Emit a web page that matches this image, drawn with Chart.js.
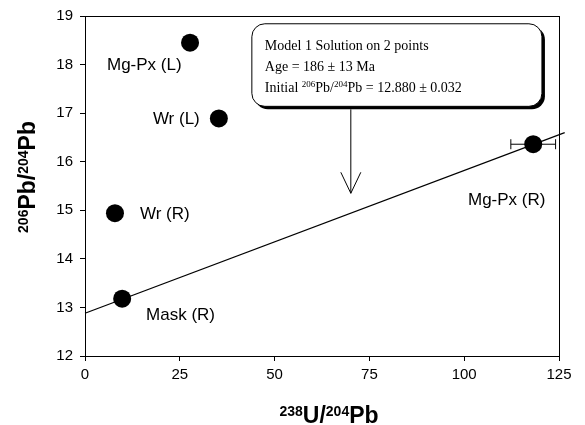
<!DOCTYPE html>
<html>
<head>
<meta charset="utf-8">
<script src="https://cdn.jsdelivr.net/npm/chart.js@4/dist/chart.umd.min.js"></script>
<style>
  html, body { margin: 0; padding: 0; background: #fff; }
  #wrap { width: 585px; height: 425px; }
</style>
</head>
<body>
<div id="wrap"><canvas id="isochron" width="585" height="425"></canvas></div>
<script>
// Sample points (238U/204Pb vs 206Pb/204Pb)
const sampleNames = ['Mg-Px (L)', 'Wr (L)', 'Wr (R)', 'Mask (R)', 'Mg-Px (R)'];
const uPb = [27.7, 35.3, 7.9, 9.8, 118.2];
const pbPb = [18.45, 16.89, 14.94, 13.18, 16.36];
// horizontal error (only Mg-Px (R) has a visible one)
const uPbErr = [0, 0, 0, 0, 5.9];

// Model 1 regression line end points
const fitX = [0, 126.5];
const fitY = [12.88, 16.60];

// tick labels
const xTicks = [0, 25, 50, 75, 100, 125];
const yTicks = [12, 13, 14, 15, 16, 17, 18, 19];

// label anchors (data coords, left edge / vertical middle)
const labelX = [5.8, 17.9, 14.5, 16.1, 101];
const labelY = [17.98, 16.87, 14.92, 12.83, 15.2];

const SANS = '"Liberation Sans", Arial, sans-serif';
const SERIF = '"Liberation Serif", "Times New Roman", serif';

// draw a run of text pieces with their own size / offset
function drawRich(ctx, parts, x, y, align) {
  let total = 0;
  parts.forEach(p => {
    ctx.font = p.font;
    p.w = ctx.measureText(p.t).width;
    total += p.w;
  });
  let cx = align === 'center' ? x - total / 2 : x;
  parts.forEach(p => {
    ctx.font = p.font;
    ctx.textAlign = 'left';
    ctx.fillText(p.t, cx, y + (p.dy || 0));
    cx += p.w;
  });
}

const extras = {
  id: 'extras',
  afterDraw(chart) {
    const ctx = chart.ctx;
    const xs = chart.scales.x, ys = chart.scales.y;
    const area = chart.chartArea;
    ctx.save();

    // plot frame
    ctx.strokeStyle = '#000';
    ctx.lineWidth = 1;
    ctx.strokeRect(Math.round(area.left) + 0.5, Math.round(area.top) + 0.5,
      Math.round(area.right - area.left), Math.round(area.bottom - area.top));

    // error bars
    ctx.beginPath();
    uPb.forEach((v, i) => {
      if (!uPbErr[i]) return;
      const y = ys.getPixelForValue(pbPb[i]);
      const x1 = xs.getPixelForValue(v - uPbErr[i]);
      const x2 = xs.getPixelForValue(v + uPbErr[i]);
      ctx.moveTo(x1, y); ctx.lineTo(x2, y);
      ctx.moveTo(x1, y - 5); ctx.lineTo(x1, y + 5);
      ctx.moveTo(x2, y - 5); ctx.lineTo(x2, y + 5);
    });
    ctx.stroke();

    // point labels
    ctx.fillStyle = '#000';
    ctx.font = '17px ' + SANS;
    ctx.textBaseline = 'middle';
    ctx.textAlign = 'left';
    sampleNames.forEach((n, i) => {
      ctx.fillText(n, xs.getPixelForValue(labelX[i]), ys.getPixelForValue(labelY[i]));
    });

    // callout box with shadow
    const bx1 = xs.getPixelForValue(44), bx2 = xs.getPixelForValue(120.5);
    const by1 = ys.getPixelForValue(18.84), by2 = ys.getPixelForValue(17.14);
    ctx.fillStyle = '#000';
    ctx.beginPath();
    ctx.roundRect(bx1 + 3, by1 + 3, bx2 - bx1, by2 - by1, 13);
    ctx.fill();
    ctx.fillStyle = '#fff';
    ctx.beginPath();
    ctx.roundRect(bx1, by1, bx2 - bx1, by2 - by1, 13);
    ctx.fill();
    ctx.stroke();

    ctx.fillStyle = '#000';
    ctx.textBaseline = 'alphabetic';
    const tx = bx1 + 13;
    const f14 = '14px ' + SERIF, f9 = '9px ' + SERIF;
    drawRich(ctx, [{ t: 'Model 1 Solution on 2 points', font: f14 }], tx, by1 + 26, 'left');
    drawRich(ctx, [{ t: 'Age = 186 \u00b1 13 Ma', font: f14 }], tx, by1 + 47, 'left');
    drawRich(ctx, [
      { t: 'Initial ', font: f14 },
      { t: '206', font: f9, dy: -5 },
      { t: 'Pb/', font: f14 },
      { t: '204', font: f9, dy: -5 },
      { t: 'Pb = 12.880 \u00b1 0.032', font: f14 }
    ], tx, by1 + 68, 'left');

    // arrow from the box
    const ax = xs.getPixelForValue(70.1);
    const ay = ys.getPixelForValue(15.35);
    ctx.beginPath();
    ctx.moveTo(ax, by2 + 3); ctx.lineTo(ax, ay);
    ctx.moveTo(ax - 10, ay - 21); ctx.lineTo(ax, ay); ctx.lineTo(ax + 10, ay - 21);
    ctx.stroke();

    // axis titles
    const big = 'bold 23px ' + SANS, sup = 'bold 14px ' + SANS;
    drawRich(ctx, [
      { t: '238', font: sup, dy: -7 },
      { t: 'U/', font: big },
      { t: '204', font: sup, dy: -7 },
      { t: 'Pb', font: big }
    ], (area.left + area.right) / 2 + 7, 423, 'center');

    ctx.translate(35, (area.top + area.bottom) / 2 - 9);
    ctx.rotate(-Math.PI / 2);
    drawRich(ctx, [
      { t: '206', font: sup, dy: -7 },
      { t: 'Pb/', font: big },
      { t: '204', font: sup, dy: -7 },
      { t: 'Pb', font: big }
    ], 0, 0, 'center');

    ctx.restore();
  }
};

const points = uPb.map((x, i) => ({ x: x, y: pbPb[i] }));
const fitLine = fitX.map((x, i) => ({ x: x, y: fitY[i] }));

new Chart(document.getElementById('isochron'), {
  type: 'scatter',
  data: {
    datasets: [
      {
        label: 'samples',
        data: points,
        pointRadius: 9,
        pointHoverRadius: 9,
        backgroundColor: '#000',
        borderColor: '#000',
        borderWidth: 0
      },
      {
        label: 'Model 1',
        data: fitLine,
        showLine: true,
        pointRadius: 0,
        borderColor: '#000',
        borderWidth: 1.2,
        clip: false
      }
    ]
  },
  plugins: [extras],
  options: {
    responsive: false,
    animation: false,
    events: [],
    layout: { padding: { left: 0, right: 26, top: 14, bottom: 0 } },
    plugins: {
      legend: { display: false },
      tooltip: { enabled: false }
    },
    scales: {
      x: {
        type: 'linear',
        min: 0,
        max: 125,
        afterBuildTicks: s => { s.ticks = xTicks.map(v => ({ value: v })); },
        afterFit: s => { s.height = 69; },
        border: { display: true, color: '#000', width: 1 },
        grid: { display: true, drawOnChartArea: false, drawTicks: true, tickLength: 5, color: '#000' },
        ticks: { color: '#000', font: { family: SANS, size: 15 }, padding: 5, maxRotation: 0 }
      },
      y: {
        type: 'linear',
        min: 12,
        max: 19,
        afterBuildTicks: s => { s.ticks = yTicks.map(v => ({ value: v })); },
        afterFit: s => { s.width = 85; },
        border: { display: true, color: '#000', width: 1 },
        grid: { display: true, drawOnChartArea: false, drawTicks: true, tickLength: 5, color: '#000' },
        ticks: { color: '#000', font: { family: SANS, size: 15 }, padding: 7 }
      }
    }
  }
});
</script>
</body>
</html>
